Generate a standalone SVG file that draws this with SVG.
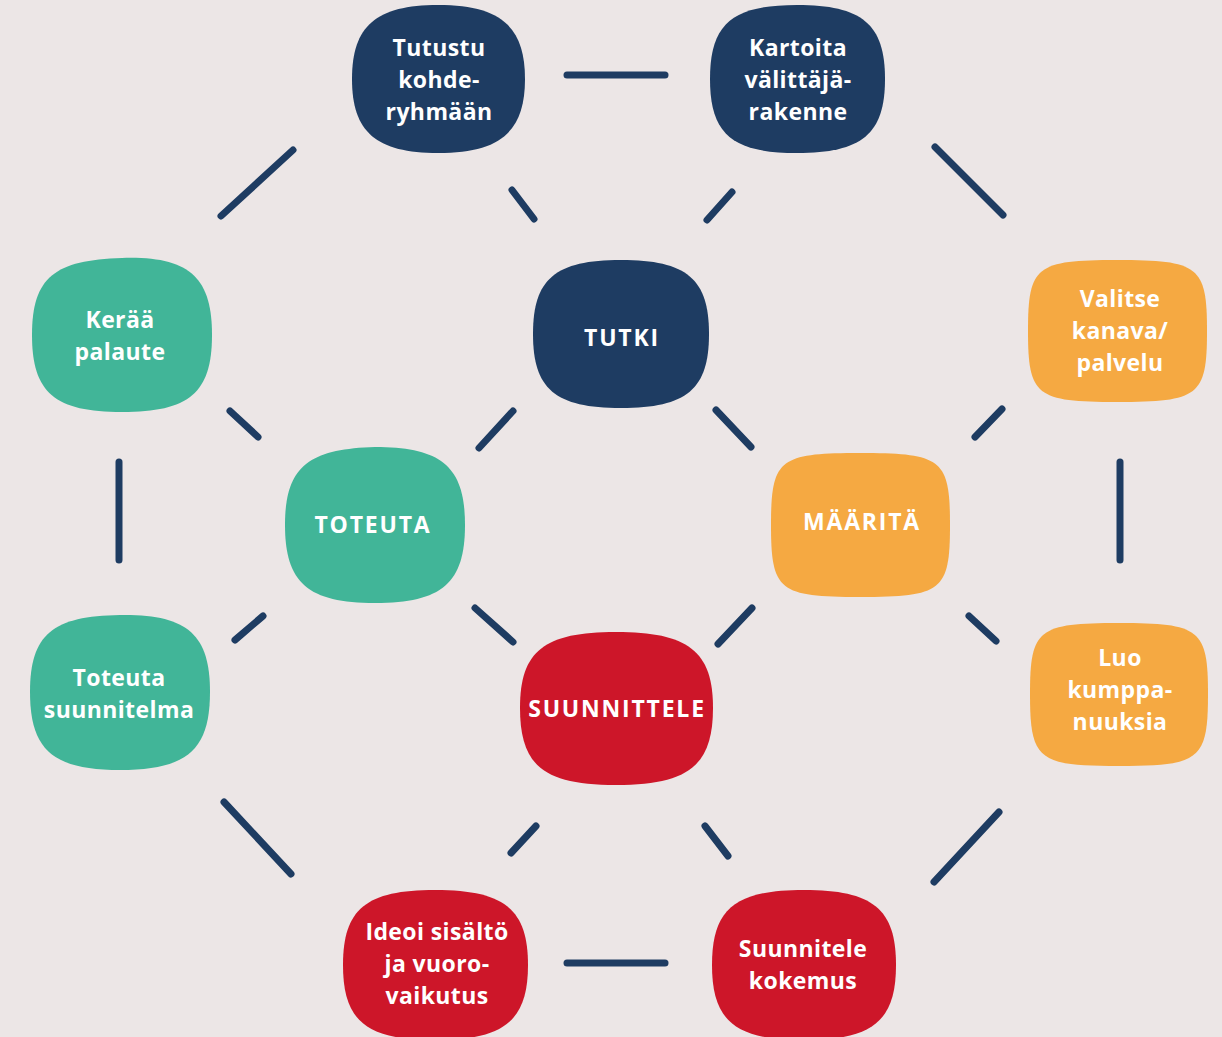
<svg xmlns="http://www.w3.org/2000/svg" width="1222" height="1037" viewBox="0 0 1222 1037">
<style>
.bg{fill:#ece6e6}
.navy{fill:#1e3c62}
.teal{fill:#41b598}
.orange{fill:#f5a942}
.red{fill:#cd1629}
.lbl{font-family:"Open Sans","Noto Sans",sans-serif;font-weight:700;font-size:23px;fill:#ffffff;text-anchor:middle;letter-spacing:0.4px}
.cap{letter-spacing:1.8px}
.conn line{stroke:#1e3c62;stroke-width:7;stroke-linecap:round}
</style>
<rect class="bg" x="0" y="0" width="1222" height="1037"/>
<g class="conn" id="connectors">
<line x1="567" y1="75" x2="665" y2="75"/>
<line x1="293" y1="150" x2="221" y2="216"/>
<line x1="935" y1="147" x2="1003" y2="215"/>
<line x1="512" y1="190" x2="534" y2="219"/>
<line x1="732" y1="192" x2="707" y2="220"/>
<line x1="230" y1="411" x2="258" y2="437"/>
<line x1="513" y1="411" x2="479" y2="448"/>
<line x1="716" y1="410" x2="751" y2="447"/>
<line x1="1002" y1="409" x2="975" y2="437"/>
<line x1="119" y1="462" x2="119" y2="560"/>
<line x1="1120" y1="462" x2="1120" y2="560"/>
<line x1="263" y1="616" x2="235" y2="640"/>
<line x1="475" y1="608" x2="513" y2="642"/>
<line x1="752" y1="608" x2="718" y2="644"/>
<line x1="969" y1="616" x2="996" y2="641"/>
<line x1="224" y1="802" x2="291" y2="874"/>
<line x1="999" y1="812" x2="934" y2="882"/>
<line x1="536" y1="826" x2="511" y2="853"/>
<line x1="705" y1="826" x2="728" y2="856"/>
<line x1="567" y1="963" x2="665" y2="963"/>
</g>
<g id="n-tutustu">
<path class="navy" d="M438,5 C500,5 525,26 525,79 C525,132 500,153 438,153 C376,153 352,132 352,79 C352,26 376,5 438,5Z"/>
<text class="lbl" x="439" y="56">Tutustu</text>
<text class="lbl" x="439" y="88">kohde-</text>
<text class="lbl" x="439" y="120">ryhmään</text>
</g>
<g id="n-kartoita">
<path class="navy" d="M797,5 C862,5 885,24 885,79 C885,134 862,153 797,153 C732,153 710,134 710,79 C710,24 732,5 797,5Z"/>
<text class="lbl" x="798" y="56">Kartoita</text>
<text class="lbl" x="798" y="88">välittäjä-</text>
<text class="lbl" x="798" y="120">rakenne</text>
</g>
<g id="n-tutki">
<path class="navy" d="M621,260 C687,260 709,279 709,334 C709,389 687,408 621,408 C555,408 533,389 533,334 C533,279 555,260 621,260Z"/>
<text class="lbl cap" x="622" y="346">TUTKI</text>
</g>
<g id="n-keraa">
<path class="teal" d="M122,258 C189,256 212,277 212,335 C212,393 189,412 122,412 C55,412 32,393 32,335 C32,277 55,260 122,258Z"/>
<text class="lbl" x="120" y="328">Kerää</text>
<text class="lbl" x="120" y="360">palaute</text>
</g>
<g id="n-valitse">
<path class="orange" d="M1117,260 C1199,260 1207,266 1207,331 C1207,396 1199,402 1117,402 C1036,402 1028,396 1028,331 C1028,266 1036,260 1117,260Z"/>
<text class="lbl" x="1120" y="307">Valitse</text>
<text class="lbl" x="1120" y="339">kanava/</text>
<text class="lbl" x="1120" y="371">palvelu</text>
</g>
<g id="n-toteuta">
<path class="teal" d="M375,447 C442,447 465,467 465,525 C465,583 442,603 375,603 C308,603 285,583 285,525 C285,467 308,449 375,447Z"/>
<text class="lbl cap" x="373" y="533">TOTEUTA</text>
</g>
<g id="n-maarita">
<path class="orange" d="M860,453 C942,453 950,459 950,525 C950,591 942,597 860,597 C779,597 771,591 771,525 C771,459 779,453 860,453Z"/>
<text class="lbl cap" x="862" y="530">MÄÄRITÄ</text>
</g>
<g id="n-toteuta-suunnitelma">
<path class="teal" d="M120,615 C187,614 210,634 210,692 C210,750 187,770 120,770 C53,770 30,750 30,692 C30,634 53,616 120,615Z"/>
<text class="lbl" x="119" y="686">Toteuta</text>
<text class="lbl" x="119" y="718">suunnitelma</text>
</g>
<g id="n-suunnittele">
<path class="red" d="M616,632 C688,632 713,651 713,708 C713,766 688,785 616,785 C544,785 520,766 520,708 C520,651 544,632 616,632Z"/>
<text class="lbl cap" x="617" y="717">SUUNNITTELE</text>
</g>
<g id="n-luo">
<path class="orange" d="M1119,623 C1200,623 1208,629 1208,694 C1208,760 1200,766 1119,766 C1038,766 1030,760 1030,694 C1030,629 1038,623 1119,623Z"/>
<text class="lbl" x="1120" y="666">Luo</text>
<text class="lbl" x="1120" y="698">kumppa-</text>
<text class="lbl" x="1120" y="730">nuuksia</text>
</g>
<g id="n-ideoi">
<path class="red" d="M435,890 C504,890 528,909 528,965 C528,1021 504,1040 435,1040 C366,1040 343,1021 343,965 C343,909 366,890 435,890Z"/>
<text class="lbl" x="437" y="940">Ideoi sisältö</text>
<text class="lbl" x="437" y="972">ja vuoro-</text>
<text class="lbl" x="437" y="1004">vaikutus</text>
</g>
<g id="n-kokemus">
<path class="red" d="M804,890 C873,890 896,909 896,965 C896,1021 873,1040 804,1040 C735,1040 712,1021 712,965 C712,909 735,890 804,890Z"/>
<text class="lbl" x="803" y="957">Suunnitele</text>
<text class="lbl" x="803" y="989">kokemus</text>
</g>
</svg>
